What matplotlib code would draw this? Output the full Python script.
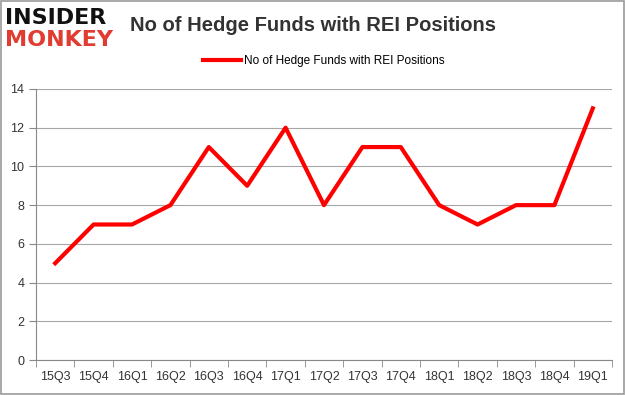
import matplotlib
matplotlib.use('Agg')
import matplotlib.pyplot as plt
from matplotlib.patches import Rectangle

# 数据
quarters = ['15Q3', '15Q4', '16Q1', '16Q2', '16Q3', '16Q4', '17Q1', '17Q2',
            '17Q3', '17Q4', '18Q1', '18Q2', '18Q3', '18Q4', '19Q1']
funds = [5, 7, 7, 8, 11, 9, 12, 8, 11, 11, 8, 7, 8, 8, 13]
series_name = 'No of Hedge Funds with REI Positions'

plt.rcParams['font.family'] = ['Liberation Sans', 'DejaVu Sans']

fig = plt.figure(figsize=(6.25, 3.95), dpi=100)
fig.patch.set_facecolor('white')
# 外框
fig.patches.append(Rectangle((0.002, 0.003), 0.996, 0.994, transform=fig.transFigure,
                             fill=False, edgecolor='#9a9a9a', linewidth=1.2))

ax = fig.add_axes([0.0576, 0.0886, 0.9216, 0.6861])
x = list(range(len(quarters)))
ax.plot(x, funds, color='#ff0000', linewidth=3, label=series_name)

ax.set_xlim(-0.5, len(quarters) - 0.5)
ax.set_ylim(0, 14)
ax.set_yticks(range(0, 15, 2))
ax.set_xticks(x)
ax.set_xticklabels(quarters)
ax.set_xticks([i - 0.5 for i in range(len(quarters) + 1)], minor=True)
ax.tick_params(axis='x', which='major', length=0, labelsize=9, pad=8, colors='#333333')
ax.tick_params(axis='x', which='minor', length=5, color='#888888')
ax.tick_params(axis='y', length=5, color='#888888', labelsize=9, colors='#333333')
ax.grid(axis='y', color='#a6a6a6', linewidth=0.8)
ax.set_axisbelow(True)
for s in ['top', 'right']:
    ax.spines[s].set_visible(False)
for s in ['left', 'bottom']:
    ax.spines[s].set_color('#888888')

# 标题和图例
fig.text(0.5, 0.935, series_name, ha='center', va='center', fontsize=14.5,
         fontweight='bold', color='#333333')
ax.legend(loc='center', bbox_to_anchor=(0.5, 1.103), frameon=False, fontsize=8.5,
          handlelength=3.2, handletextpad=0.3)

# logo
fig.text(0.008, 0.955, 'INSIDER', ha='left', va='center', fontsize=16,
         fontweight='heavy', color='#111111', family='DejaVu Sans')
fig.text(0.008, 0.9, 'MONKEY', ha='left', va='center', fontsize=16,
         fontweight='heavy', color='#e03c31', family='DejaVu Sans')

fig.savefig('out.png', dpi=100)
